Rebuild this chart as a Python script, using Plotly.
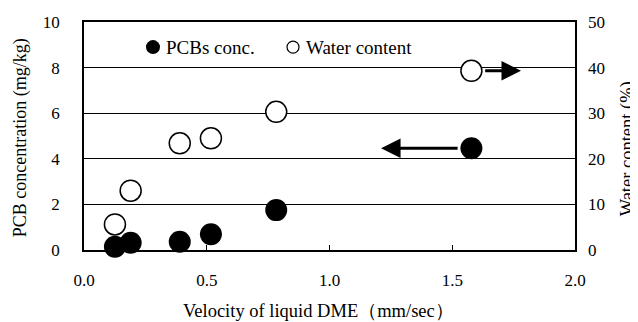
import plotly.graph_objects as go

# Data
velocity = [0.126, 0.19, 0.39, 0.517, 0.783, 1.578]
pcb_conc = [0.14, 0.32, 0.36, 0.69, 1.75, 4.46]
water_content = [5.6, 13.0, 23.4, 24.5, 30.3, 39.3]

x_ticks = [0.0, 0.5, 1.0, 1.5, 2.0]
y1_ticks = [0, 2, 4, 6, 8, 10]
y2_ticks = [0, 10, 20, 30, 40, 50]

series_names = ["PCBs conc.", "Water content"]
x_title = "Velocity of liquid DME（mm/sec）"
y1_title = "PCB concentration (mg/kg)"
y2_title = "Water content (%)"

FONT = "Liberation Serif"
fig = go.Figure()

fig.add_trace(go.Scatter(
    x=velocity, y=water_content, yaxis="y2", mode="markers", name=series_names[1],
    marker=dict(size=21, color="white", line=dict(color="black", width=1.5)),
    showlegend=False, cliponaxis=False))
fig.add_trace(go.Scatter(
    x=velocity, y=pcb_conc, mode="markers", name=series_names[0],
    marker=dict(size=22, color="black", line=dict(color="black", width=0)),
    showlegend=False, cliponaxis=False))

# arrows pointing to each series' axis
fig.add_annotation(x=1.21, y=pcb_conc[-1], ax=velocity[-1] - 0.05, ay=pcb_conc[-1],
                   xref="x", yref="y", axref="x", ayref="y",
                   showarrow=True, arrowhead=2, arrowsize=1.3, arrowwidth=3, arrowcolor="black", text="")
fig.add_annotation(x=1.78, y=water_content[-1], ax=velocity[-1] + 0.05, ay=water_content[-1],
                   xref="x", yref="y2", axref="x", ayref="y2",
                   showarrow=True, arrowhead=2, arrowsize=1.3, arrowwidth=3, arrowcolor="black", text="")

# custom legend (symbols as pixel-sized shapes, labels as text)
legend_y = 0.89
fig.add_shape(type="circle", xref="paper", yref="paper", xsizemode="pixel", ysizemode="pixel",
              xanchor=0.1405, yanchor=legend_y, x0=-7, x1=7, y0=-7, y1=7,
              fillcolor="black", line=dict(color="black", width=0))
fig.add_annotation(x=0.163, y=legend_y, xref="paper", yref="paper", text=series_names[0],
                   showarrow=False, xanchor="left", yanchor="middle", font=dict(size=19))
fig.add_shape(type="circle", xref="paper", yref="paper", xsizemode="pixel", ysizemode="pixel",
              xanchor=0.4257, yanchor=legend_y, x0=-6, x1=6, y0=-6, y1=6,
              fillcolor="white", line=dict(color="black", width=1.2))
fig.add_annotation(x=0.448, y=legend_y, xref="paper", yref="paper", text=series_names[1],
                   showarrow=False, xanchor="left", yanchor="middle", font=dict(size=19))

# axis titles
fig.add_annotation(x=0.4786, y=-0.2675, xref="paper", yref="paper", text=x_title,
                   showarrow=False, xanchor="center", yanchor="middle", font=dict(size=18.5))
fig.add_annotation(x=-0.1303, y=0.49, xref="paper", yref="paper", text=y1_title, textangle=-90,
                   showarrow=False, xanchor="center", yanchor="middle", font=dict(size=18))
fig.add_annotation(x=1.1075, y=0.445, xref="paper", yref="paper", text=y2_title, textangle=-90,
                   showarrow=False, xanchor="center", yanchor="middle", font=dict(size=18.5))

fig.update_layout(
    width=630, height=314,
    margin=dict(l=76, r=63, t=14, b=72),
    paper_bgcolor="white", plot_bgcolor="white",
    font=dict(family=FONT, size=17, color="black"),
    showlegend=False,
    xaxis=dict(range=[0, 2], tickvals=x_ticks, ticktext=[f"{v:.1f}" for v in x_ticks],
               showgrid=False, zeroline=False, showline=True, linecolor="black", linewidth=1.5,
               mirror=True, ticks="inside", ticklen=5, tickcolor="black", automargin=False,
               ticklabelstandoff=14),
    yaxis=dict(range=[0, 10], tickvals=y1_ticks, showgrid=True, gridcolor="black", gridwidth=1.4,
               zeroline=False, showline=True, linecolor="black", linewidth=1.5, mirror=True,
               ticks="", ticklabelstandoff=19, automargin=False),
    yaxis2=dict(range=[0, 50], tickvals=y2_ticks, overlaying="y", side="right",
                showgrid=False, zeroline=False, showline=False, ticks="", automargin=False,
                ticklabelstandoff=12),
)

fig.write_html("out.html")
